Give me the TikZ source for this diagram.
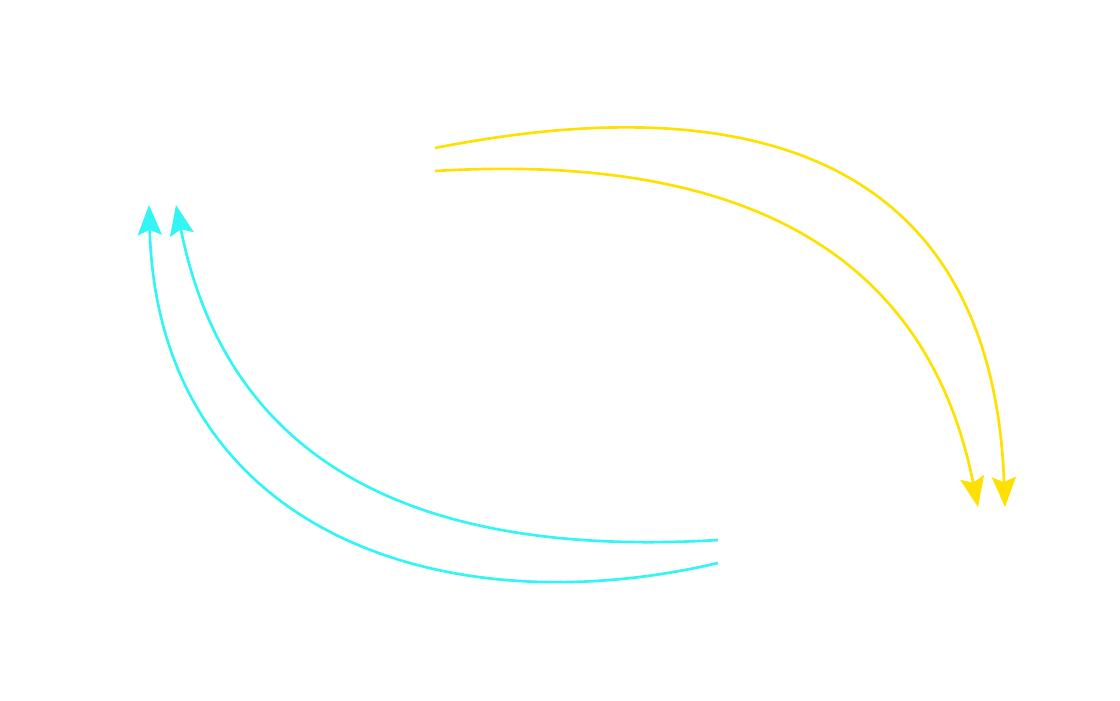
\documentclass[tikz,border=0pt]{standalone}
\usetikzlibrary{arrows.meta}
\definecolor{arrowyellow}{RGB}{255,224,0}
\definecolor{arrowcyan}{RGB}{51,245,245}
\tikzset{
  flow/.style={line width=1.9pt, -{Stealth[length=0.75cm,width=0.6cm,inset=0.13cm]}},
  yflow/.style={flow, draw=arrowyellow, arrowyellow},
  cflow/.style={flow, draw=arrowcyan, arrowcyan}
}
\begin{document}
\begin{tikzpicture}[x=0.025cm,y=-0.025cm]
\useasboundingbox (0,0) rectangle (1120,700);
\coordinate (ya) at (435,148);
\coordinate (yb) at (435,171);
\coordinate (yta) at (1005,507);
\coordinate (ytb) at (978,507);
\coordinate (ca) at (718,563);
\coordinate (cb) at (718,540);
\coordinate (cta) at (149,205);
\coordinate (ctb) at (176,205);
\draw[yflow] (ya) .. controls (780,80) and (993,177) .. (yta);
\draw[yflow] (yb) .. controls (735,153) and (926,247) .. (ytb);
\draw[cflow] (ca) .. controls (440,628) and (158,530) .. (cta);
\draw[cflow] (cb) .. controls (418,558) and (228,465) .. (ctb);
\end{tikzpicture}
\end{document}
